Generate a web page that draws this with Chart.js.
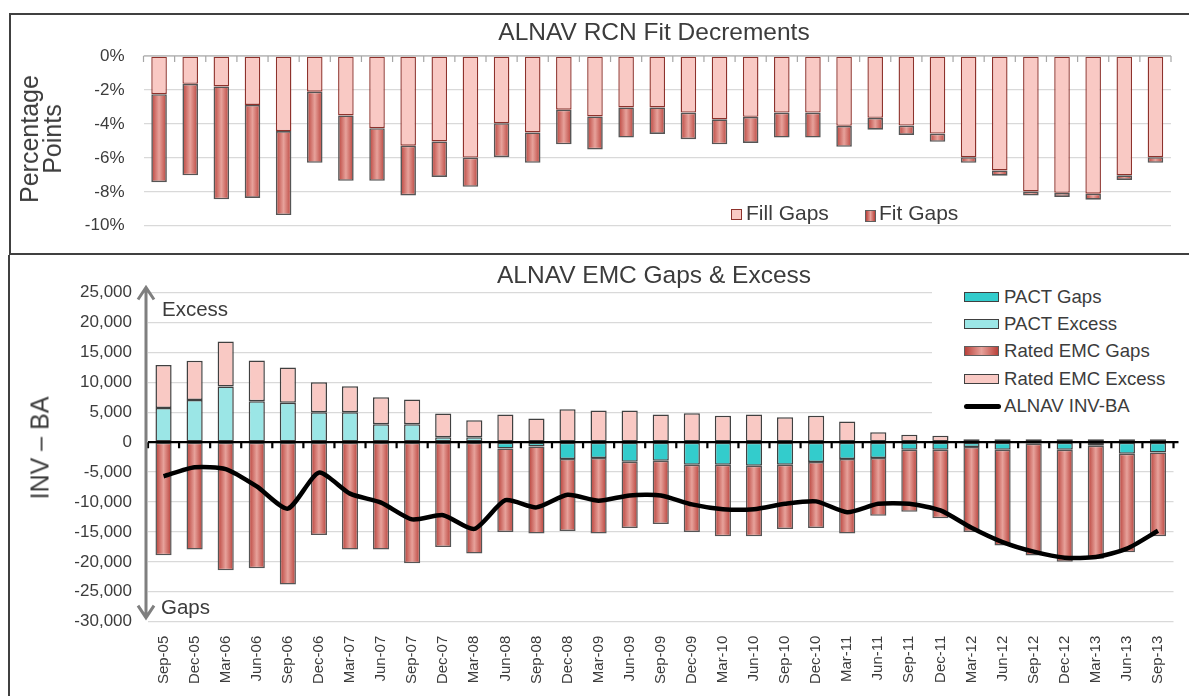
<!DOCTYPE html>
<html>
<head>
<meta charset="utf-8">
<script src="https://cdn.jsdelivr.net/npm/chart.js@4.4.1/dist/chart.umd.min.js"></script>
<style>
  body { margin: 0; width: 1189px; height: 696px; position: relative; overflow: hidden; background: #fff;
         font-family: 'Liberation Sans', Arial, sans-serif; color: #3C3C3C; }
  .abs { position: absolute; white-space: nowrap; }
  .rot { position: absolute; white-space: nowrap; text-align: center; transform: translate(-50%, -50%) rotate(-90deg); }
  .sw { position: absolute; box-sizing: border-box; }
  canvas { position: absolute; left: 0; }
</style>
</head>
<body>
<div class="abs" style="left:9px;top:13px;width:1200px;height:238px;border:2px solid #404040;"></div>
<div class="abs" style="left:8px;top:255px;width:1200px;height:460px;border-left:2px solid #404040;"></div>

<canvas id="fitChart" width="1189" height="255" style="top:0"></canvas>
<canvas id="emcChart" width="1189" height="440" style="top:256px"></canvas>

<!-- top chart texts -->
<div class="abs" style="left:354px;top:20px;width:600px;text-align:center;font-size:24.5px;line-height:24px;">ALNAV RCN Fit Decrements</div>
<div class="rot" style="left:41px;top:139px;font-size:25px;line-height:23px;">Percentage<br>Points</div>
<div class="sw" style="left:731px;top:209px;width:11px;height:11px;background:#F9C9C4;border:1px solid #8E322C;"></div>
<div class="abs" style="left:746px;top:203px;font-size:21px;line-height:20px;">Fill Gaps</div>
<div class="sw" style="left:865px;top:210px;width:11px;height:12px;background:linear-gradient(to right,#B9413A,#E7A29B,#B9413A);border:1px solid #5F5F5F;"></div>
<div class="abs" style="left:879px;top:203px;font-size:21px;line-height:20px;">Fit Gaps</div>

<!-- bottom chart texts -->
<div class="abs" style="left:354px;top:263px;width:600px;text-align:center;font-size:24.5px;line-height:24px;">ALNAV EMC Gaps &amp; Excess</div>
<div class="rot" style="left:40px;top:448px;font-size:25px;line-height:25px;">INV – BA</div>
<div class="abs" style="left:162px;top:299px;font-size:20.5px;line-height:20px;">Excess</div>
<div class="abs" style="left:161px;top:597px;font-size:20.5px;line-height:20px;">Gaps</div>

<div class="abs" style="left:932px;top:283px;width:257px;height:133px;background:#fff;"></div>
<div class="sw" style="left:964px;top:292px;width:35px;height:10px;background:#33CCCC;border:1.5px solid #404040;"></div>
<div class="abs" style="left:1004px;top:287px;font-size:18.6px;line-height:19px;">PACT Gaps</div>
<div class="sw" style="left:964px;top:319px;width:35px;height:10px;background:#9BE6E6;border:1.5px solid #404040;"></div>
<div class="abs" style="left:1004px;top:314px;font-size:18.6px;line-height:19px;">PACT Excess</div>
<div class="sw" style="left:964px;top:346px;width:35px;height:10px;background:linear-gradient(to right,#B9413A,#E7A29B,#B9413A);border:1.5px solid #5F5F5F;"></div>
<div class="abs" style="left:1004px;top:341px;font-size:18.6px;line-height:19px;">Rated EMC Gaps</div>
<div class="sw" style="left:964px;top:374px;width:35px;height:10px;background:#F9C9C4;border:1.5px solid #404040;"></div>
<div class="abs" style="left:1004px;top:369px;font-size:18.6px;line-height:19px;">Rated EMC Excess</div>
<div class="sw" style="left:964px;top:404px;width:37px;height:5px;background:#000;border-radius:3px;"></div>
<div class="abs" style="left:1004px;top:396px;font-size:18.6px;line-height:19px;">ALNAV INV-BA</div>

<script>
const quarters = ['Sep-05','Dec-05','Mar-06','Jun-06','Sep-06','Dec-06','Mar-07','Jun-07','Sep-07','Dec-07','Mar-08',
  'Jun-08','Sep-08','Dec-08','Mar-09','Jun-09','Sep-09','Dec-09','Mar-10','Jun-10','Sep-10','Dec-10','Mar-11',
  'Jun-11','Sep-11','Dec-11','Mar-12','Jun-12','Sep-12','Dec-12','Mar-13','Jun-13','Sep-13'];

// RCN fit decrements, percentage points
const fillGaps = [-2.25,-1.64,-1.79,-2.88,-4.42,-2.10,-3.50,-4.25,-5.28,-5.03,-5.98,-3.96,-4.50,-3.16,-3.56,-3.03,-3.03,
  -3.33,-3.73,-3.58,-3.33,-3.33,-4.11,-3.64,-4.10,-4.57,-5.96,-6.74,-7.98,-8.06,-8.11,-7.03,-5.96];
const fitGaps = [-5.18,-5.39,-6.65,-5.48,-4.95,-4.19,-3.85,-3.10,-2.93,-2.09,-1.72,-2.00,-1.79,-2.04,-1.94,-1.77,-1.56,
  -1.57,-1.47,-1.54,-1.47,-1.47,-1.24,-0.70,-0.55,-0.48,-0.33,-0.31,-0.23,-0.24,-0.35,-0.27,-0.33];
const pctTicks = [0, -2, -4, -6, -8, -10];

// EMC gaps & excess
const pactGaps = [0,0,0,0,0,0,0,0,0,0,0,-1060,-720,-2830,-2670,-3280,-3110,-3780,-3780,-3940,-3780,-3330,-2830,
  -2670,-1280,-1280,-830,-1280,-280,-1280,-610,-1940,-1720];
const pactExcess = [5700,7050,9300,6850,6600,5000,5000,3000,3000,800,800,0,0,0,0,0,0,0,0,0,0,0,0,0,0,0,0,0,0,0,0,0,0];
const ratedGaps = [-18890,-17940,-21390,-21060,-23780,-15500,-17940,-17940,-20220,-17500,-18610,-13940,-14560,-12000,
  -12610,-11050,-10560,-11220,-11940,-11780,-10720,-11000,-12450,-9610,-10330,-11440,-14170,-16000,-18660,-18720,
  -18890,-16450,-14000];
const ratedExcess = [7200,6550,7500,6780,5890,5000,4330,4500,4110,4000,2840,4610,3940,5500,5280,5280,4610,4830,4390,
  4610,4170,4390,3440,1670,1220,1060,500,500,500,500,500,500,500];
const invBa = [-5700,-4200,-4500,-7400,-11100,-5100,-8600,-10100,-12900,-12200,-14500,-9700,-10900,-8800,-9800,-8900,
  -8900,-10400,-11200,-11200,-10300,-9900,-11700,-10300,-10300,-11400,-14300,-16700,-18300,-19300,-19200,-17800,-14800];
const emcTicks = [25000,20000,15000,10000,5000,0,-5000,-10000,-15000,-20000,-25000,-30000];

const textColor = '#3C3C3C';
const barPct = 0.5;

// red bar fill, dark at the edges and light in the middle
function redGradient(context) {
  const chart = context.chart;
  const area = chart.chartArea;
  if (context.type !== 'data' || !area || !chart.scales.x) return '#C65A52';
  const w = (area.right - area.left) / quarters.length * barPct;
  const cx = chart.scales.x.getPixelForValue(context.dataIndex);
  const g = chart.ctx.createLinearGradient(cx - w / 2, 0, cx + w / 2, 0);
  g.addColorStop(0, '#B9413A');
  g.addColorStop(0.5, '#E7A29B');
  g.addColorStop(1, '#B9413A');
  return g;
}

// zero line with small tick marks between categories
const axisTicks = {
  id: 'axisTicks',
  afterDatasetsDraw(chart, args, opts) {
    const { ctx, chartArea } = chart;
    const y0 = chart.scales.y.getPixelForValue(0);
    const step = (chartArea.right - chartArea.left) / quarters.length;
    ctx.save();
    ctx.strokeStyle = opts.color;
    ctx.lineWidth = opts.lineWidth;
    ctx.beginPath();
    ctx.moveTo(chartArea.left, y0);
    ctx.lineTo(chartArea.right + opts.extend, y0);
    for (let i = 0; i <= quarters.length; i++) {
      const x = chartArea.left + i * step;
      ctx.moveTo(x, y0);
      ctx.lineTo(x, y0 + opts.length);
    }
    ctx.stroke();
    ctx.restore();
  }
};

// grey double arrow along the left of the EMC chart
const sideArrow = {
  id: 'sideArrow',
  afterDraw(chart) {
    const { ctx, chartArea } = chart;
    const x = chartArea.left - 2;
    const top = chartArea.top - 5;
    const bottom = chartArea.bottom - 4;
    ctx.save();
    ctx.strokeStyle = '#7F7F7F';
    ctx.lineWidth = 3;
    ctx.beginPath();
    ctx.moveTo(x, top + 1);
    ctx.lineTo(x, bottom - 1);
    ctx.moveTo(x - 8, top + 12);
    ctx.lineTo(x, top);
    ctx.lineTo(x + 8, top + 12);
    ctx.moveTo(x - 8, bottom - 12);
    ctx.lineTo(x, bottom);
    ctx.lineTo(x + 8, bottom - 12);
    ctx.stroke();
    ctx.restore();
  }
};

const tickFont = { family: "'Liberation Sans', Arial, sans-serif", size: 17 };

new Chart(document.getElementById('fitChart'), {
  type: 'bar',
  data: {
    labels: quarters,
    datasets: [
      { label: 'Fill Gaps', data: fillGaps, backgroundColor: '#F9C9C4', borderColor: '#8E322C', borderWidth: 1.4,
        borderSkipped: false, barPercentage: barPct, categoryPercentage: 1 },
      { label: 'Fit Gaps', data: fitGaps, backgroundColor: redGradient, borderColor: '#555555', borderWidth: 1.6,
        borderSkipped: false, barPercentage: barPct, categoryPercentage: 1 }
    ]
  },
  options: {
    responsive: false,
    animation: false,
    layout: { padding: { left: 0, right: 18, top: 56, bottom: 24 } },
    plugins: {
      legend: { display: false },
      tooltip: { enabled: false },
      axisTicks: { color: '#A6A6A6', lineWidth: 1.2, length: 6, extend: 0 }
    },
    scales: {
      x: { stacked: true, display: false },
      y: {
        stacked: true, min: -10, max: 0,
        afterFit: s => { s.width = 143.5; },
        afterBuildTicks: s => { s.ticks = pctTicks.map(v => ({ value: v })); },
        ticks: { color: textColor, font: tickFont, padding: 19, callback: v => v + '%' },
        grid: { color: '#D9D9D9', lineWidth: 1.3, drawTicks: false },
        border: { display: false }
      }
    }
  },
  plugins: [axisTicks]
});

new Chart(document.getElementById('emcChart'), {
  type: 'bar',
  data: {
    labels: quarters,
    datasets: [
      { label: 'PACT Gaps', data: pactGaps, backgroundColor: '#33CCCC', borderColor: '#404040', borderWidth: 1.5,
        borderSkipped: false, barPercentage: 0.52, categoryPercentage: 1, stack: 'emc', order: 1 },
      { label: 'PACT Excess', data: pactExcess, backgroundColor: '#9BE6E6', borderColor: '#404040', borderWidth: 1.5,
        borderSkipped: false, barPercentage: 0.52, categoryPercentage: 1, stack: 'emc', order: 1 },
      { label: 'Rated EMC Gaps', data: ratedGaps, backgroundColor: redGradient, borderColor: '#555555', borderWidth: 1.5,
        borderSkipped: false, barPercentage: 0.52, categoryPercentage: 1, stack: 'emc', order: 1 },
      { label: 'Rated EMC Excess', data: ratedExcess, backgroundColor: '#F9C9C4', borderColor: '#404040', borderWidth: 1.5,
        borderSkipped: false, barPercentage: 0.52, categoryPercentage: 1, stack: 'emc', order: 1 },
      { type: 'line', label: 'ALNAV INV-BA', data: invBa, borderColor: '#000', borderWidth: 4.5, tension: 0.22,
        pointRadius: 0, fill: false, stack: 'line', order: 0 }
    ]
  },
  options: {
    responsive: false,
    animation: false,
    layout: { padding: { left: 0, right: 15.5, top: 36.5, bottom: 0 } },
    plugins: {
      legend: { display: false },
      tooltip: { enabled: false },
      axisTicks: { color: '#000', lineWidth: 2.2, length: 6, extend: 5 }
    },
    scales: {
      x: {
        stacked: true,
        afterFit: s => { s.height = 74.3; },
        ticks: { color: textColor, font: { family: "'Liberation Sans', Arial, sans-serif", size: 15 },
                 maxRotation: 90, minRotation: 90, autoSkip: false, padding: 6 },
        grid: { display: false },
        border: { display: false }
      },
      y: {
        stacked: true, min: -30000, max: 25000,
        afterFit: s => { s.width = 148; },
        afterBuildTicks: s => { s.ticks = emcTicks.map(v => ({ value: v })); },
        ticks: { color: textColor, font: tickFont, padding: 16, callback: v => v.toLocaleString('en-US') },
        grid: { color: c => c.tick && c.tick.value === 0 ? '#000' : '#D9D9D9', lineWidth: 1.3, drawTicks: false },
        border: { display: false }
      }
    }
  },
  plugins: [axisTicks, sideArrow]
});
</script>
</body>
</html>
